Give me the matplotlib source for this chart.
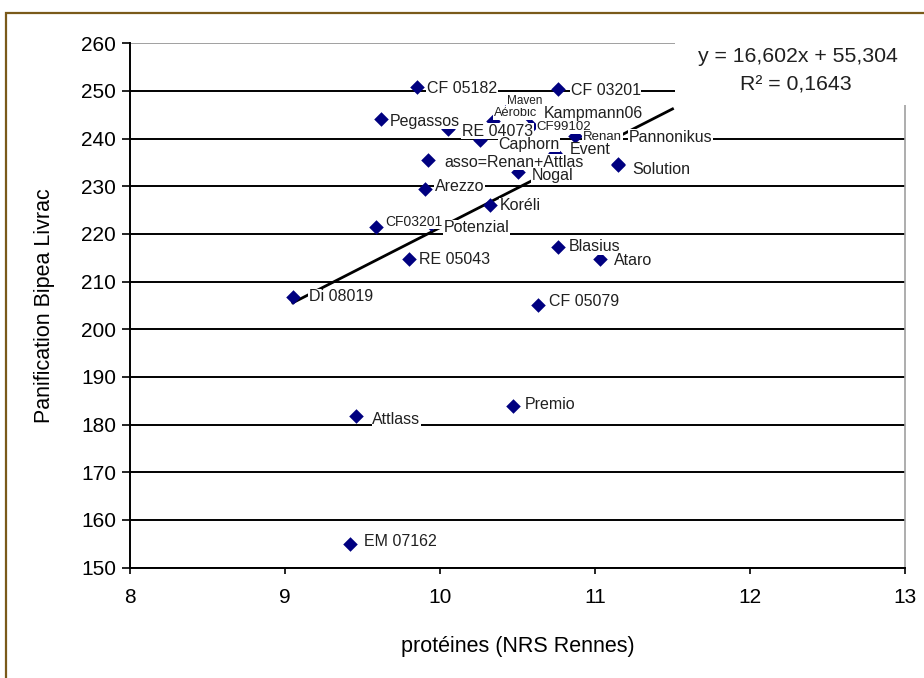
import matplotlib.pyplot as plt
import numpy as np
from matplotlib.patches import Rectangle

plt.rcParams['font.family'] = ['Liberation Sans', 'DejaVu Sans']

# varietes : proteines (NRS Rennes) vs note de panification
varietes = ["CF 05182", "CF 03201", "Pegassos", "RE 04073", "Caphorn", "Aérobic", "Maven",
            "Kampmann06", "CF99102", "Renan", "Event", "Pannonikus", "Solution",
            "asso=Renan+Attlas", "Nogal", "Arezzo", "Koréli", "CF03201", "Potenzial",
            "RE 05043", "Di 08019", "Blasius", "Ataro", "CF 05079", "Attlass", "Premio",
            "EM 07162"]
proteines = [9.85, 10.76, 9.62, 10.05, 10.26, 10.34, 10.42,
             10.57, 10.59, 10.87, 10.74, 11.15, 11.15,
             9.92, 10.50, 9.90, 10.32, 9.59, 9.94,
             9.80, 9.05, 10.76, 11.03, 10.63, 9.46, 10.47,
             9.42]
panification = [250.8, 250.4, 244.1, 242.0, 239.7, 243.7, 245.6,
                245.0, 242.6, 240.5, 237.0, 234.6, 234.5,
                235.5, 233.0, 229.4, 226.1, 221.5, 222.1,
                214.7, 206.8, 217.3, 214.7, 205.1, 181.8, 183.9,
                154.9]

# decalage des etiquettes (pixels a droite, pixels vers le bas) et tailles
offsets = [(10, 1), (13, 1), (9, 2), (14, 2), (18, 4), (1, -8), (2, -11),
           (15, -1), (5, 1), (8, 1), (15, -3), (10, -27), (14, 5),
           (17, 2), (14, 4), (10, -3), (10, 1), (9, -5), (13, 4),
           (10, 0), (16, 0), (11, 0), (14, 1), (11, -3), (16, 4), (12, -1),
           (14, -3)]
small = {"Aérobic": 9.2, "Maven": 8.5, "CF99102": 9.5, "Renan": 9.5, "CF03201": 10}

pente, origine = 16.602, 55.304
r2 = 0.1643
x_fin_tendance = 11.5

fig = plt.figure(figsize=(9.24, 6.78), dpi=100)
ax = fig.add_axes([130 / 924, 1 - 567.5 / 678, 775 / 924, 524.2 / 678])

ax.set_xlim(8, 13)
ax.set_ylim(150, 260)
ax.set_xticks(np.arange(8, 14, 1))
ax.set_yticks(np.arange(150, 261, 10))
ax.tick_params(axis='y', direction='out', length=6, width=1.2, labelsize=15, pad=4)
ax.tick_params(axis='x', direction='out', length=4.5, width=1.2, labelsize=15, pad=10)

ax.yaxis.grid(True, color='black', linewidth=1.4, zorder=1)
ax.set_axisbelow(True)
ax.get_ygridlines()[-1].set_color('#a0a0a0')
for s in ['left', 'bottom']:
    ax.spines[s].set_linewidth(1.4)
ax.spines['top'].set_visible(False)
ax.spines['right'].set_color('#a0a0a0')
ax.spines['right'].set_linewidth(1.2)

# courbe de tendance
xt = np.array([min(proteines), x_fin_tendance])
ax.plot(xt, pente * xt + origine, color='black', linewidth=2, zorder=2)

ax.scatter(proteines, panification, marker='D', s=55, color='#000080', zorder=4,
           linewidths=0)

for nom, x, y, (dx, dy) in zip(varietes, proteines, panification, offsets):
    ax.annotate(nom, (x, y), xytext=(dx * 0.72, -dy * 0.72), textcoords='offset points',
                ha='left', va='center', fontsize=small.get(nom, 11.5), color='#202020',
                bbox=dict(facecolor='white', edgecolor='none', pad=0.5), zorder=5)

ax.set_xlabel("protéines (NRS Rennes)", fontsize=15.5, labelpad=21)
ax.set_ylabel("Panification Bipea Livrac", fontsize=15.5, labelpad=19)

# boite de l'equation
fig.add_artist(Rectangle((675 / 924, 1 - 105 / 678), 0.3, 80 / 678, transform=fig.transFigure,
                         facecolor='white', edgecolor='none', zorder=3))
fig.text(798 / 924, 1 - 57 / 678, f"y = {pente:.3f}x + {origine:.3f}".replace('.', ','),
         ha='center', va='center', fontsize=15.3, color='#202020', zorder=4)
fig.text(796 / 924, 1 - 85 / 678, f"R² = {r2:.4f}".replace('.', ','),
         ha='center', va='center', fontsize=15.3, color='#202020', zorder=4)

# cadre exterieur
fig.add_artist(Rectangle((5.5 / 924, -0.05), 1.1, 1 - 12.5 / 678 + 0.05, transform=fig.transFigure,
                         facecolor='none', edgecolor='#7a5a1a', linewidth=1.6, zorder=5))

fig.savefig("out.png", dpi=100)
